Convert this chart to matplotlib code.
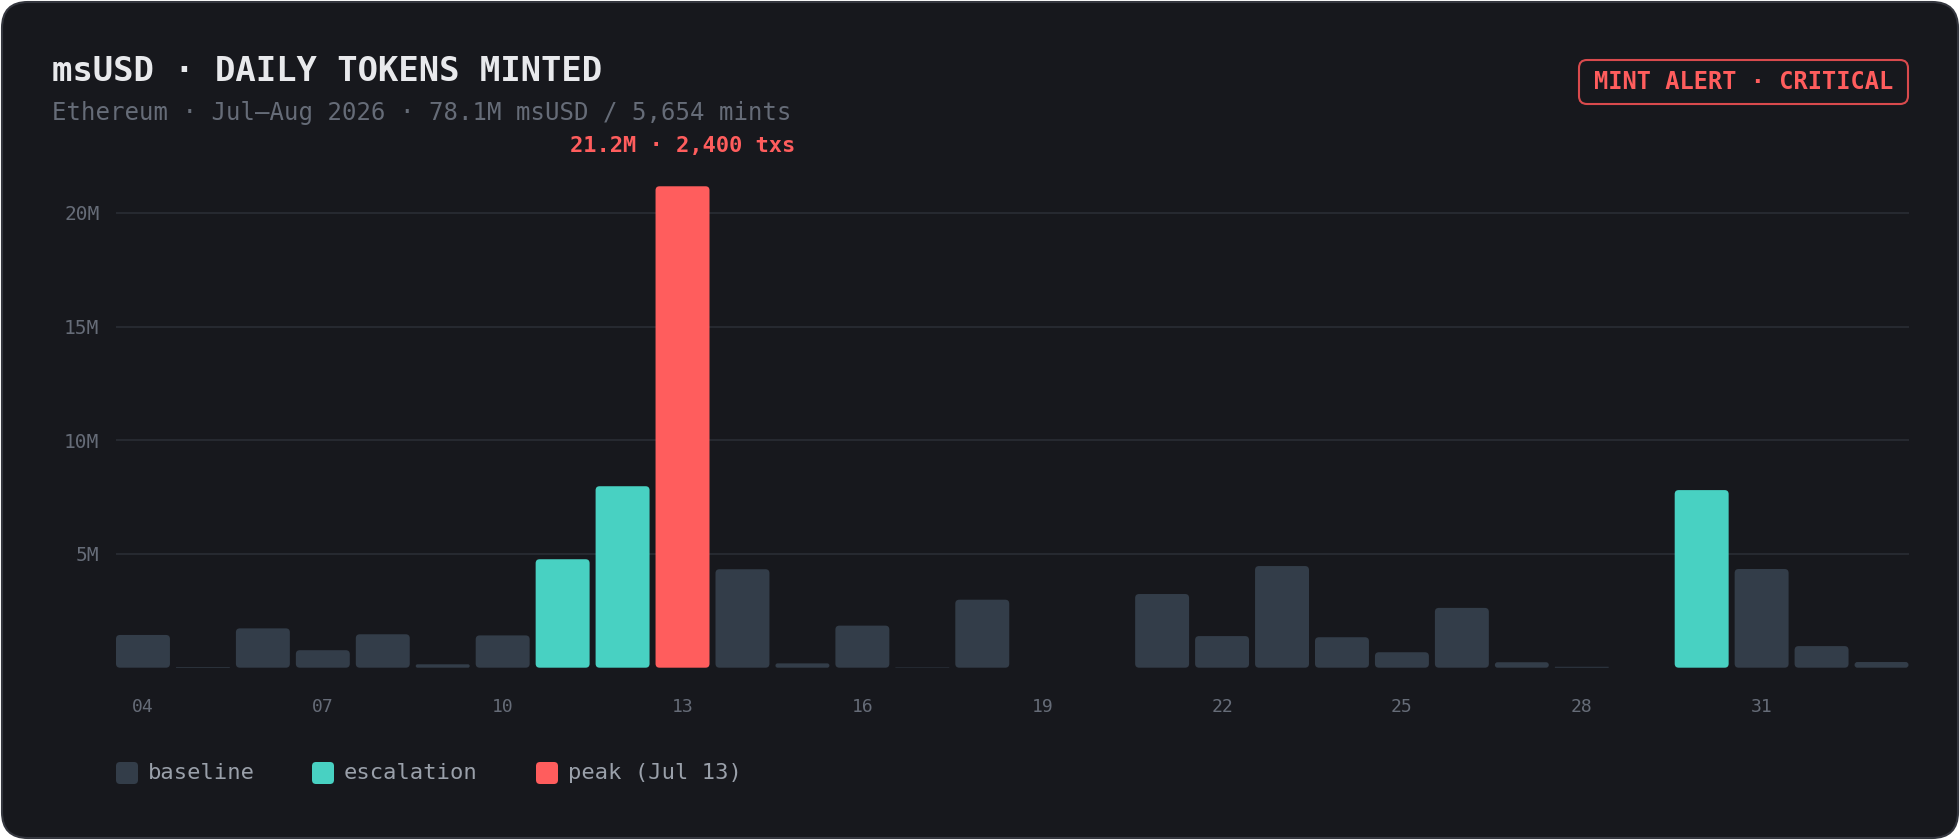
import numpy as np
import pandas as pd
import matplotlib
matplotlib.use("Agg")
import matplotlib.pyplot as plt
from matplotlib.patches import FancyBboxPatch


# ==========================================
# Data
# ==========================================

dates = pd.date_range("2026-07-04", "2026-08-02", freq="D")

# daily minted amount, millions of msUSD
minted_m = [1.44, 0.03, 1.73, 0.77, 1.47, 0.15, 1.42, 4.77, 7.98, 21.17,
            4.33, 0.19, 1.85, 0.02, 2.99, 0.00, 0.00, 3.24, 1.39, 4.47,
            1.34, 0.68, 2.63, 0.24, 0.04, 0.00, 7.81, 4.34, 0.95, 0.25]

phase = ["baseline"] * 7 + ["escalation", "escalation", "peak"] + \
        ["baseline"] * 16 + ["escalation"] + ["baseline"] * 3

legend_labels = ["baseline", "escalation", "peak (Jul 13)"]
y_ticks = [5, 10, 15, 20]
y_tick_labels = ["5M", "10M", "15M", "20M"]

peak_txs = 2400
title = "msUSD · DAILY TOKENS MINTED"
subtitle = "Ethereum · Jul–Aug 2026 · 78.1M msUSD / 5,654 mints"
badge = "MINT ALERT · CRITICAL"


# ==========================================
# Style
# ==========================================

W, H = 1960, 840
BG = "#17181d"
CARD_EDGE = "#34363e"
GRID = "#262930"
TICK = "#666c78"
COLORS = {"baseline": "#333d49", "escalation": "#48d1c2", "peak": "#ff5d5d"}
RED = "#ff5d5d"

plt.rcParams["font.family"] = ["DejaVu Sans Mono", "DejaVu Sans"]

fig = plt.figure(figsize=(W / 100, H / 100), dpi=100)
fig.patch.set_facecolor("white")


def rounded_box(x_px, y_px, w_px, h_px, r_px, **kw):
    # figure pixel coords, y measured from the top
    box = FancyBboxPatch((x_px / W, 1 - (y_px + h_px) / H), w_px / W, h_px / H,
                         boxstyle=f"round,pad=0,rounding_size={r_px / W}",
                         mutation_aspect=W / H, transform=fig.transFigure, **kw)
    fig.add_artist(box)
    return box


def fig_text(x_px, y_px, s, **kw):
    return fig.text(x_px / W, 1 - y_px / H, s, **kw)


# card
card = rounded_box(2, 2, W - 4, H - 4, 26, facecolor=BG, edgecolor=CARD_EDGE, lw=1.5)
card.set_zorder(-10)

# ==========================================
# Bars
# ==========================================

ax_bottom = 667.7
ax_top = 167.4
ax = fig.add_axes([116 / W, 1 - ax_bottom / H, 1792.5 / W, (ax_bottom - ax_top) / H])
ax.set_facecolor("none")
ax.set_xlim(-0.45, len(minted_m) - 0.55)
ax.set_ylim(0, 22)

x = np.arange(len(minted_m))
bars = ax.bar(x, minted_m, width=0.9, color=[COLORS[p] for p in phase], zorder=3)

# swap plain rectangles for rounded ones
px_x = ax.transData.transform((1, 0))[0] - ax.transData.transform((0, 0))[0]
px_y = ax.transData.transform((0, 1))[1] - ax.transData.transform((0, 0))[1]
aspect = px_x / px_y
for bar in list(bars):
    x0, y0 = bar.get_x(), bar.get_y()
    w, h = bar.get_width(), bar.get_height()
    r = min(4 / px_x, h / aspect / 2, w / 2)
    rounded = FancyBboxPatch((x0, y0), w, h,
                             boxstyle=f"round,pad=0,rounding_size={r}",
                             mutation_aspect=aspect,
                             facecolor=bar.get_facecolor(), edgecolor="none", zorder=3)
    bar.remove()
    ax.add_patch(rounded)

ax.set_yticks(y_ticks)
ax.set_yticklabels(y_tick_labels)
ax.set_xticks(x[::3])
ax.set_xticklabels(dates[::3].strftime("%d"))
ax.tick_params(axis="y", length=0, pad=12, labelsize=14, labelcolor=TICK)
ax.tick_params(axis="x", length=0, pad=22, labelsize=13, labelcolor=TICK)
ax.grid(axis="y", color=GRID, lw=1.5, zorder=0)
for s in ax.spines.values():
    s.set_visible(False)

peak_i = phase.index("peak")
ax.annotate(f"{minted_m[peak_i]:.1f}M · {peak_txs:,} txs",
            xy=(peak_i, minted_m[peak_i]), xytext=(0, 25), textcoords="offset points",
            ha="center", va="baseline", fontsize=15.8, weight="bold", color=RED,
            annotation_clip=False)

# ==========================================
# Header
# ==========================================

fig_text(52, 81, title, fontsize=24.4, weight="bold", color="#e8e9ec", va="baseline")
fig_text(52, 120, subtitle, fontsize=17.25, color=TICK, va="baseline")

rounded_box(1579, 60, 329, 44, 8, facecolor="none", edgecolor="#d94a4d", lw=1.5)
fig_text(1743.5, 82, badge, fontsize=17, weight="bold", color=RED,
         ha="center", va="center")

# ==========================================
# Legend
# ==========================================

legend_x = [116, 312, 536]
for lx, name, label in zip(legend_x, ["baseline", "escalation", "peak"], legend_labels):
    rounded_box(lx, 762, 22, 22, 4, facecolor=COLORS[name], edgecolor="none")
    fig_text(lx + 32, 773, label, fontsize=15.9, color="#9aa0aa", va="center")

fig.savefig("out.png", dpi=100, facecolor=fig.get_facecolor())
